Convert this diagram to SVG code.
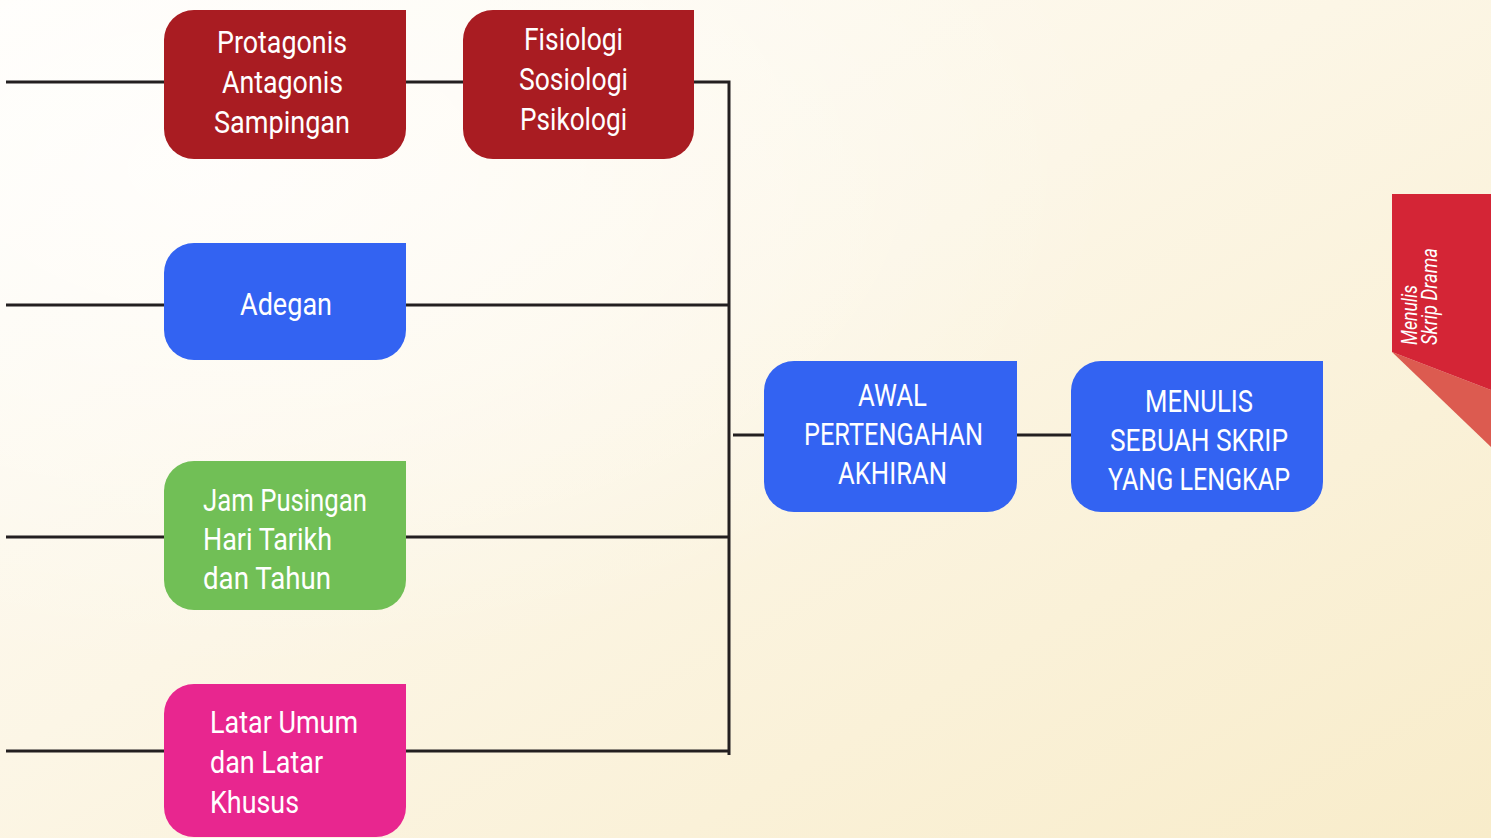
<svg xmlns="http://www.w3.org/2000/svg" width="1491" height="838" viewBox="0 0 1491 838">
  <defs>
    <linearGradient id="bg" x1="0" y1="0" x2="1" y2="1">
      <stop offset="0" stop-color="#fffdf9"/>
      <stop offset="0.45" stop-color="#fcf6e6"/>
      <stop offset="1" stop-color="#f8ecca"/>
    </linearGradient>
    <radialGradient id="haze" cx="0.15" cy="0.2" r="0.6">
      <stop offset="0" stop-color="#ffffff" stop-opacity="0.7"/>
      <stop offset="1" stop-color="#ffffff" stop-opacity="0"/>
    </radialGradient>
  </defs>
  <style>
    .link { stroke: #231f20; stroke-width: 3; fill: none; }
    .lbl { font-family: Roboto, "Liberation Sans", sans-serif; font-weight: 400; font-size: 32px; fill: #ffffff; }
    .tab { font-family: Roboto, "Liberation Sans", sans-serif; font-weight: 400; font-style: italic; font-size: 22px; fill: #ffffff; }
    .red { fill: #a91c22; }
    .blue { fill: #3363f2; }
    .green { fill: #71bf56; }
    .pink { fill: #e8268f; }
  </style>

  <!-- background -->
  <rect x="0" y="0" width="1491" height="838" fill="url(#bg)"/>
  <rect x="0" y="0" width="1491" height="838" fill="url(#haze)"/>

  <!-- connectors -->
  <g id="connectors">
    <line class="link" x1="6" y1="82" x2="164" y2="82"/>
    <line class="link" x1="406" y1="82" x2="463" y2="82"/>
    <polyline class="link" points="694,82 729,82 729,755"/>
    <line class="link" x1="6" y1="305" x2="164" y2="305"/>
    <line class="link" x1="406" y1="305" x2="729" y2="305"/>
    <line class="link" x1="6" y1="537" x2="164" y2="537"/>
    <line class="link" x1="406" y1="537" x2="729" y2="537"/>
    <line class="link" x1="6" y1="751" x2="164" y2="751"/>
    <line class="link" x1="406" y1="751" x2="729" y2="751"/>
    <line class="link" x1="733" y1="435" x2="764" y2="435"/>
    <line class="link" x1="1017" y1="435" x2="1071" y2="435"/>
  </g>

  <!-- character types -->
  <g id="node-watak">
    <path class="red" d="M194,10 H406 V129 A30,30 0 0 1 376,159 H194 A30,30 0 0 1 164,129 V40 A30,30 0 0 1 194,10 Z"/>
    <text class="lbl" x="217" y="53" textLength="130" lengthAdjust="spacingAndGlyphs">Protagonis</text>
    <text class="lbl" x="222" y="93" textLength="121" lengthAdjust="spacingAndGlyphs">Antagonis</text>
    <text class="lbl" x="214" y="133" textLength="136" lengthAdjust="spacingAndGlyphs">Sampingan</text>
  </g>

  <!-- character dimensions -->
  <g id="node-dimensi">
    <path class="red" d="M493,10 H694 V129 A30,30 0 0 1 664,159 H493 A30,30 0 0 1 463,129 V40 A30,30 0 0 1 493,10 Z"/>
    <text class="lbl" x="524" y="50" textLength="99" lengthAdjust="spacingAndGlyphs">Fisiologi</text>
    <text class="lbl" x="519" y="90" textLength="109" lengthAdjust="spacingAndGlyphs">Sosiologi</text>
    <text class="lbl" x="520" y="130" textLength="107" lengthAdjust="spacingAndGlyphs">Psikologi</text>
  </g>

  <g id="node-adegan">
    <path class="blue" d="M194,243 H406 V330 A30,30 0 0 1 376,360 H194 A30,30 0 0 1 164,330 V273 A30,30 0 0 1 194,243 Z"/>
    <text class="lbl" x="240" y="315" textLength="92" lengthAdjust="spacingAndGlyphs">Adegan</text>
  </g>

  <g id="node-masa">
    <path class="green" d="M194,461 H406 V580 A30,30 0 0 1 376,610 H194 A30,30 0 0 1 164,580 V491 A30,30 0 0 1 194,461 Z"/>
    <text class="lbl" x="203" y="511" textLength="164" lengthAdjust="spacingAndGlyphs">Jam Pusingan</text>
    <text class="lbl" x="203" y="550" textLength="129" lengthAdjust="spacingAndGlyphs">Hari Tarikh</text>
    <text class="lbl" x="203" y="589" textLength="128" lengthAdjust="spacingAndGlyphs">dan Tahun</text>
  </g>

  <g id="node-latar">
    <path class="pink" d="M194,684 H406 V807 A30,30 0 0 1 376,837 H194 A30,30 0 0 1 164,807 V714 A30,30 0 0 1 194,684 Z"/>
    <text class="lbl" x="210" y="733" textLength="148" lengthAdjust="spacingAndGlyphs">Latar Umum</text>
    <text class="lbl" x="210" y="773" textLength="113" lengthAdjust="spacingAndGlyphs">dan Latar</text>
    <text class="lbl" x="210" y="813" textLength="89" lengthAdjust="spacingAndGlyphs">Khusus</text>
  </g>

  <g id="node-struktur">
    <path class="blue" d="M794,361 H1017 V482 A30,30 0 0 1 987,512 H794 A30,30 0 0 1 764,482 V391 A30,30 0 0 1 794,361 Z"/>
    <text class="lbl" x="858" y="406" textLength="69" lengthAdjust="spacingAndGlyphs">AWAL</text>
    <text class="lbl" x="804" y="445" textLength="179" lengthAdjust="spacingAndGlyphs">PERTENGAHAN</text>
    <text class="lbl" x="838" y="484" textLength="109" lengthAdjust="spacingAndGlyphs">AKHIRAN</text>
  </g>

  <g id="node-skrip">
    <path class="blue" d="M1101,361 H1323 V482 A30,30 0 0 1 1293,512 H1101 A30,30 0 0 1 1071,482 V391 A30,30 0 0 1 1101,361 Z"/>
    <text class="lbl" x="1145" y="412" textLength="108" lengthAdjust="spacingAndGlyphs">MENULIS</text>
    <text class="lbl" x="1110" y="451" textLength="178" lengthAdjust="spacingAndGlyphs">SEBUAH SKRIP</text>
    <text class="lbl" x="1108" y="490" textLength="182" lengthAdjust="spacingAndGlyphs">YANG LENGKAP</text>
  </g>

  <!-- chapter tab on the right edge -->
  <g id="tab">
    <polygon points="1392,352 1491,390 1491,447" fill="#dc5b50"/>
    <polygon points="1392,194 1491,194 1491,390 1392,352" fill="#d42536"/>
    <text class="tab" transform="translate(1417,345) rotate(-90)" textLength="60" lengthAdjust="spacingAndGlyphs">Menulis</text>
    <text class="tab" transform="translate(1437,345) rotate(-90)" textLength="97" lengthAdjust="spacingAndGlyphs">Skrip Drama</text>
  </g>
</svg>
